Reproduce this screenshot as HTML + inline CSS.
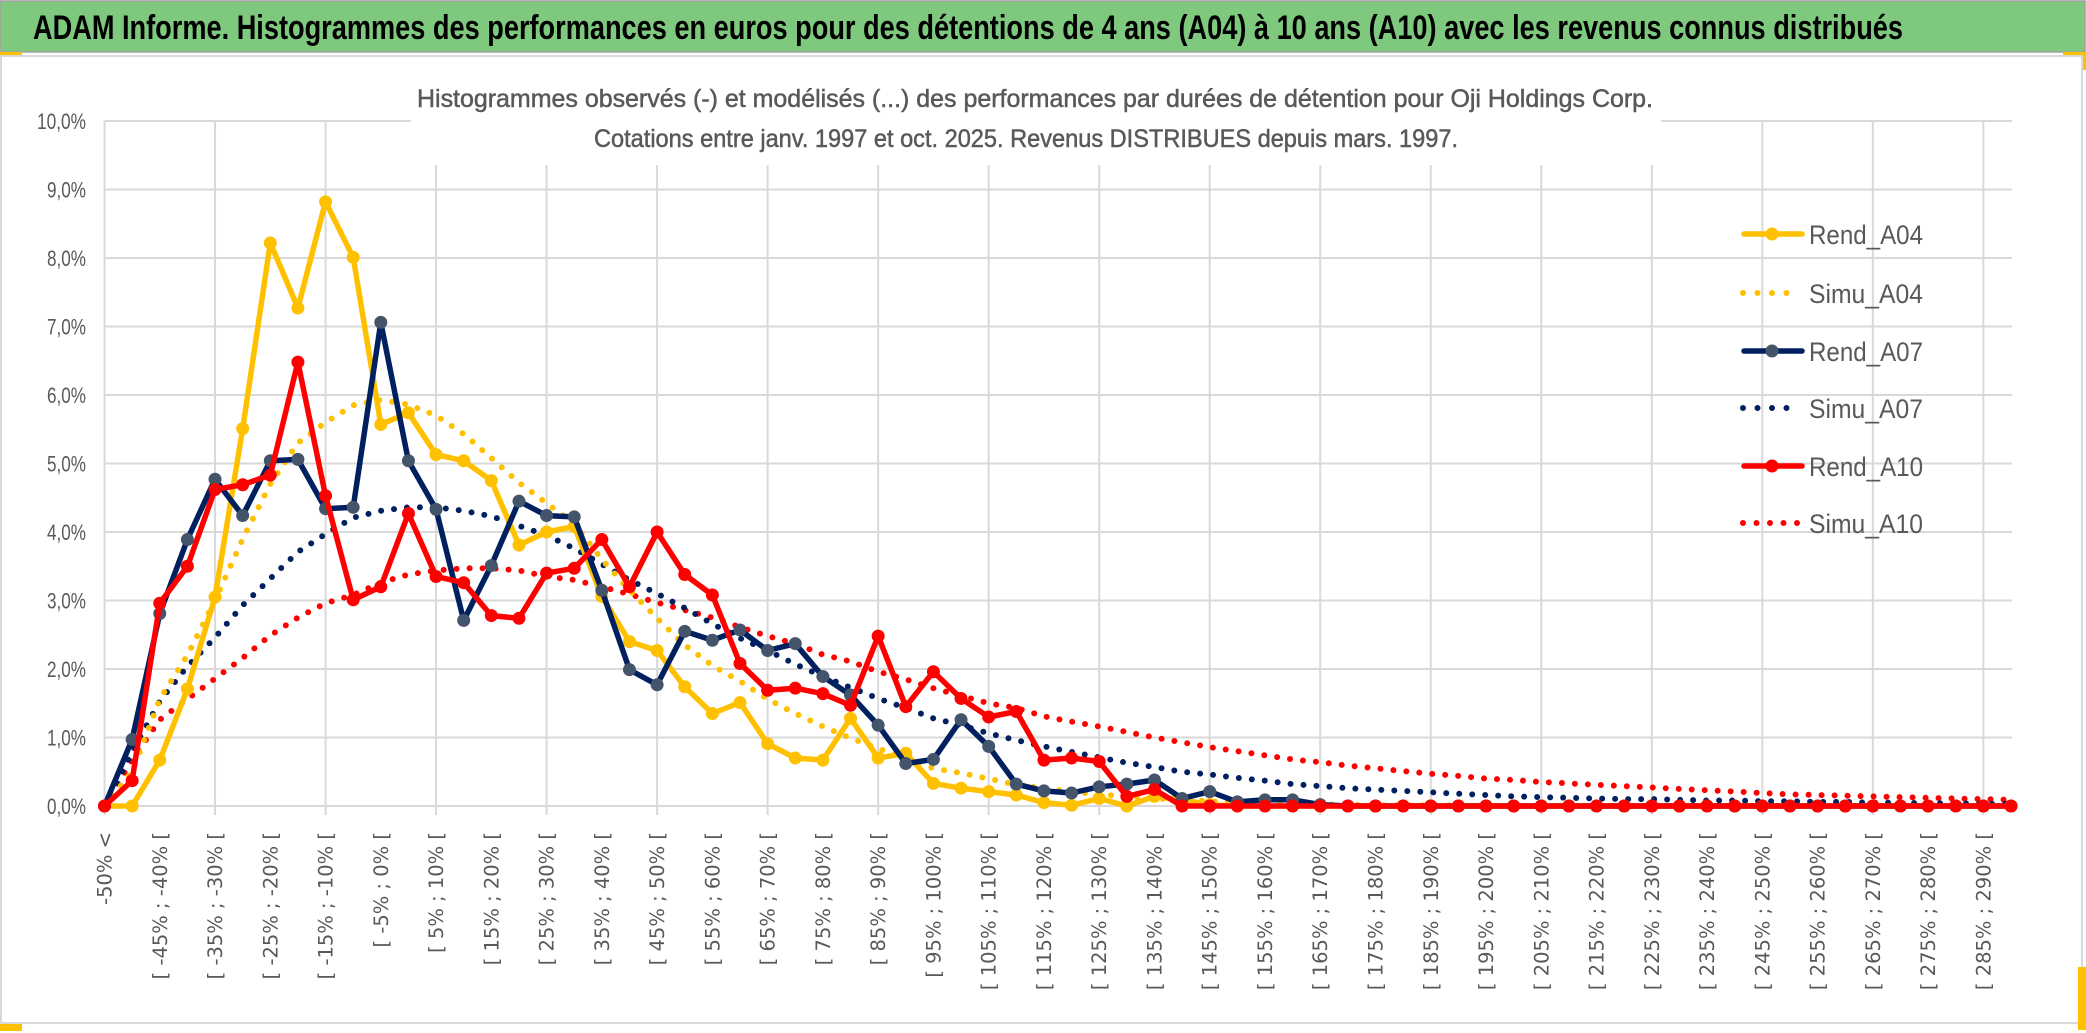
<!DOCTYPE html>
<html><head><meta charset="utf-8"><style>
html,body{margin:0;padding:0;background:#fff;}
svg{display:block;}
</style></head><body>
<svg id="chart" width="2086" height="1033" viewBox="0 0 2086 1033" xmlns="http://www.w3.org/2000/svg">
<rect x="0" y="0" width="2086" height="1033" fill="#fff"/>
<rect x="0" y="1" width="2085" height="51" fill="#7FC97F" stroke="#a0a0a0" stroke-width="1.5"/>
<text x="33" y="39" font-family="Liberation Sans, sans-serif" font-weight="bold" font-size="34" fill="#000" textLength="1870" lengthAdjust="spacingAndGlyphs">ADAM Informe. Histogrammes des performances en euros pour des détentions de 4 ans (A04) à 10 ans (A10) avec les revenus connus distribués</text>
<rect x="0" y="52" width="22" height="4" fill="#FFC000"/>
<rect x="2063" y="52" width="23" height="18" fill="#FFC000"/>
<rect x="1" y="56" width="2081" height="967" fill="#fff" stroke="#d9d9d9" stroke-width="2"/>
<rect x="0" y="1024" width="22" height="7" fill="#FFC000"/>
<rect x="2078" y="967" width="8" height="63" fill="#FFC000"/>
<g id="grid"></g>
<rect x="411" y="70" width="1250" height="95" fill="#fff"/>
<text x="1035" y="107" text-anchor="middle" font-family="Liberation Sans, sans-serif" font-size="25" fill="#595959" stroke="#595959" stroke-width="0.5" textLength="1236" lengthAdjust="spacingAndGlyphs">Histogrammes observés (-) et modélisés (...) des performances par durées de détention pour Oji Holdings Corp.</text>
<text x="1026" y="147" text-anchor="middle" font-family="Liberation Sans, sans-serif" font-size="25" fill="#595959" stroke="#595959" stroke-width="0.5" textLength="864" lengthAdjust="spacingAndGlyphs">Cotations entre janv. 1997 et oct. 2025. Revenus DISTRIBUES depuis mars. 1997.</text>
<g id="axes"></g>
<g id="series"></g>
<g id="legend"></g>
</svg>
<script>
const yTicks = [0,1,2,3,4,5,6,7,8,9,10];
const rendA04 = [0,0,0.67,1.71,3.05,5.51,8.22,7.27,8.82,8.01,5.57,5.74,5.13,5.04,4.75,3.81,4.0,4.08,3.06,2.4,2.27,1.74,1.35,1.51,0.91,0.70,0.67,1.28,0.70,0.77,0.33,0.26,0.21,0.16,0.05,0.01,0.11,0,0.14,0.09,0.02,0,0,0,0,0,0,0,0,0,0,0,0,0,0,0,0,0,0,0,0,0,0,0,0,0,0,0,0,0];
const simuA04 = [0,0.5,1.56,2.2,3.0,3.9,4.7,5.3,5.6,5.85,5.93,5.86,5.7,5.43,5.08,4.72,4.42,4.12,3.6,3.15,2.74,2.35,2.05,1.82,1.56,1.35,1.16,0.99,0.84,0.7,0.55,0.48,0.4,0.31,0.26,0.21,0.17,0.14,0.11,0.09,0.07,0.05,0.04,0.03,0.02,0.02,0.01,0.01,0.01,0.01,0,0,0,0,0,0,0,0,0,0,0,0,0,0,0,0,0,0,0,0];
const rendA07 = [0,0.97,2.81,3.89,4.77,4.24,5.04,5.06,4.34,4.36,7.06,5.04,4.33,2.71,3.51,4.45,4.24,4.22,3.15,1.99,1.77,2.55,2.42,2.57,2.27,2.37,1.89,1.62,1.18,0.62,0.68,1.26,0.87,0.32,0.22,0.19,0.28,0.32,0.38,0.11,0.21,0.06,0.09,0.09,0.02,0,0,0,0,0,0,0,0,0,0,0,0,0,0,0,0,0,0,0,0,0,0,0,0,0];
const simuA07 = [0,0.79,1.53,2.04,2.46,2.93,3.32,3.71,3.97,4.21,4.31,4.36,4.36,4.31,4.23,4.09,3.95,3.76,3.53,3.3,3.1,2.89,2.66,2.45,2.27,2.07,1.89,1.73,1.57,1.43,1.28,1.18,1.06,0.96,0.87,0.79,0.71,0.63,0.57,0.5,0.46,0.41,0.37,0.32,0.29,0.26,0.24,0.22,0.2,0.18,0.16,0.14,0.13,0.12,0.11,0.1,0.1,0.09,0.08,0.08,0.07,0.07,0.06,0.06,0.05,0.05,0.04,0.04,0.03,0.03];
const rendA10 = [0,0.37,2.96,3.5,4.62,4.69,4.83,6.48,4.53,3.01,3.2,4.27,3.35,3.26,2.78,2.74,3.4,3.47,3.89,3.2,4.0,3.38,3.08,2.08,1.69,1.72,1.64,1.47,2.48,1.45,1.96,1.57,1.3,1.38,0.67,0.7,0.65,0.14,0.24,0,0,0,0,0,0,0,0,0,0,0,0,0,0,0,0,0,0,0,0,0,0,0,0,0,0,0,0,0,0,0];
const simuA10 = [0,0.67,1.26,1.56,1.86,2.16,2.49,2.75,2.96,3.08,3.26,3.38,3.44,3.47,3.47,3.44,3.35,3.3,3.2,3.09,2.97,2.86,2.75,2.61,2.48,2.37,2.21,2.11,1.96,1.85,1.72,1.61,1.5,1.43,1.31,1.23,1.16,1.08,1.0,0.93,0.86,0.8,0.74,0.68,0.64,0.59,0.55,0.51,0.47,0.44,0.4,0.38,0.35,0.33,0.31,0.29,0.27,0.25,0.23,0.21,0.19,0.17,0.16,0.15,0.14,0.13,0.12,0.11,0.1,0.09];
const seriesNames = ["Rend_A04","Simu_A04","Rend_A07","Simu_A07","Rend_A10","Simu_A10"];

const NS = "http://www.w3.org/2000/svg";
const X0 = 104.5, X1 = 2011, Y0 = 806, Y10 = 121;
const N = 70;
function xs(i){ return X0 + (X1 - X0) * i / (N - 1); }
function ys(v){ return Y0 - (Y0 - Y10) * v / 10; }
function catLabel(i){
  if (i === 0) return "-50% <";
  const a = -55 + 5*i, b = a + 5;
  return "[ " + a + "% ; " + b + "% [";
}
function mk(tag, attrs, parent){
  const e = document.createElementNS(NS, tag);
  for (const k in attrs) e.setAttribute(k, attrs[k]);
  parent.appendChild(e);
  return e;
}
const grid = document.getElementById("grid");
yTicks.forEach(t => {
  const l = mk("line", {x1: X0, x2: X1 + 1, y1: ys(t), y2: ys(t), stroke: "#d9d9d9", "stroke-width": 2}, grid);
  
  
});
for (let i = 0; i < N; i += 4) {
  const l = mk("line", {x1: xs(i), x2: xs(i), y1: Y10, y2: Y0 + 9, stroke: "#d9d9d9", "stroke-width": 2}, grid);
  
  
}
const axes = document.getElementById("axes");
yTicks.forEach(t => {
  const tx = mk("text", {x: 86, y: ys(t) + 8, "text-anchor": "end", "font-family": "Liberation Sans, sans-serif", "font-size": 22, fill: "#595959", textLength: (t === 10 ? 49 : 39), lengthAdjust: "spacingAndGlyphs"}, axes);
  tx.textContent = t.toFixed(1).replace(".", ",") + "%";
  
  
});
for (let i = 0; i < N; i += 2) {
  const x = xs(i) + 7, y = 832;
  const tx = mk("text", {x: x, y: y, "text-anchor": "end", transform: "rotate(-90 " + x + " " + y + ")", "font-family": "DejaVu Sans, sans-serif", "font-size": 19.5, fill: "#595959"}, axes);
  tx.textContent = catLabel(i);
  
  
}
const seriesG = document.getElementById("series");
function pathD(arr){ return arr.map((v,i) => (i ? "L" : "M") + xs(i).toFixed(1) + " " + ys(v).toFixed(1)).join(" "); }
function dotted(arr, color, name){
  const p = mk("path", {d: pathD(arr), fill: "none", stroke: color, "stroke-width": 6, "stroke-linecap": "round", "stroke-dasharray": "0 13"}, seriesG);
  
  
}
function solid(arr, color, mcolor, name){
  const p = mk("path", {d: pathD(arr), fill: "none", stroke: color, "stroke-width": 5.5, "stroke-linejoin": "round"}, seriesG);
  
  
  arr.forEach((v,i) => {
    const c = mk("circle", {cx: xs(i), cy: ys(v), r: 6.5, fill: mcolor}, seriesG);
    
    
  });
}
dotted(simuA10, "#FF0000", "simu-a10-line");
dotted(simuA07, "#002060", "simu-a07-line");
dotted(simuA04, "#FFC000", "simu-a04-line");
solid(rendA04, "#FFC000", "#FFC000", "rend-a04-line");
solid(rendA07, "#002060", "#44546A", "rend-a07-line");
solid(rendA10, "#FF0000", "#FF0000", "rend-a10-line");

const legend = document.getElementById("legend");
const legY = [234, 293, 351, 408, 466, 523];
const legColor = ["#FFC000","#FFC000","#002060","#002060","#FF0000","#FF0000"];
const legMarker = ["#FFC000",null,"#44546A",null,"#FF0000",null];
seriesNames.forEach((nm, k) => {
  const y = legY[k];
  const g = mk("g", {}, legend);
  
  
  if (legMarker[k]) {
    mk("line", {x1: 1744, x2: 1802, y1: y, y2: y, stroke: legColor[k], "stroke-width": 5.5, "stroke-linecap": "round"}, g);
    mk("circle", {cx: 1772, cy: y, r: 6.5, fill: legMarker[k]}, g);
  } else {
    mk("line", {x1: 1743, x2: k === 5 ? 1800 : 1790, y1: y, y2: y, stroke: legColor[k], "stroke-width": 6, "stroke-linecap": "round", "stroke-dasharray": k === 5 ? "0 13.5" : "0 14.5"}, g);
  }
  const t = mk("text", {x: 1809, y: y + 10, "font-family": "Liberation Sans, sans-serif", "font-size": 27, fill: "#595959", textLength: 114, lengthAdjust: "spacingAndGlyphs"}, g);
  t.textContent = nm;
});
</script>
</body></html>
